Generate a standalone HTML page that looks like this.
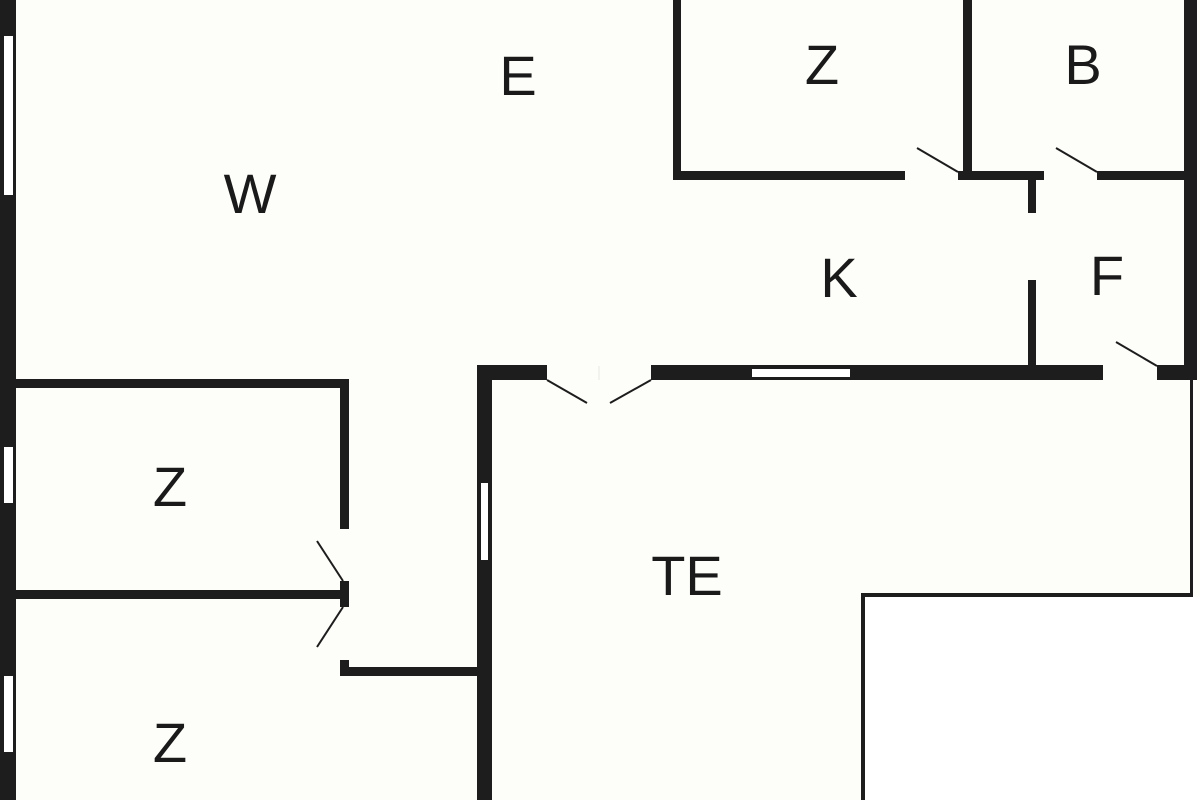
<!DOCTYPE html>
<html><head><meta charset="utf-8"><style>
html,body{margin:0;padding:0;background:#fdfdf9;}
svg{display:block;}
text{font-family:"Liberation Sans",sans-serif;font-size:56px;fill:#1a1a1a;text-anchor:middle;}
</style></head><body>
<svg width="1200" height="800" viewBox="0 0 1200 800" xmlns="http://www.w3.org/2000/svg">
<rect x="0" y="0" width="1200" height="800" fill="#fdfdf9"/>
<rect x="863" y="597" width="337" height="203" fill="#ffffff"/>
<g fill="#1d1d1d">
<!-- left outer wall -->
<rect x="0" y="0" width="16" height="800"/>
<!-- top-right Z room -->
<rect x="673" y="0" width="8" height="180"/>
<rect x="673" y="171" width="232" height="9"/>
<rect x="958" y="171" width="86" height="9"/>
<rect x="963" y="0" width="9" height="180"/>
<rect x="1028" y="171" width="8" height="42"/>
<rect x="1097" y="171" width="90" height="9"/>
<rect x="1184" y="0" width="13" height="380"/>
<rect x="1028" y="280" width="8" height="90"/>
<!-- TE top wall -->
<rect x="477" y="365" width="70" height="15"/>
<rect x="651" y="365" width="452" height="15"/>
<rect x="1157" y="365" width="40" height="15"/>
<!-- TE left wall -->
<rect x="477" y="365" width="15" height="435"/>
<!-- left Z rooms -->
<rect x="16" y="379" width="333" height="9"/>
<rect x="340" y="379" width="9" height="150"/>
<rect x="340" y="581" width="9" height="26"/>
<rect x="16" y="590" width="333" height="9"/>
<rect x="340" y="660" width="9" height="16"/>
<rect x="340" y="667" width="138" height="9"/>
<!-- thin lines -->
<rect x="1190" y="380" width="3" height="217"/>
<rect x="861" y="593" width="332" height="4"/>
<rect x="861" y="593" width="4" height="207"/>
</g>
<!-- windows -->
<g fill="#ffffff">
<rect x="4" y="36" width="9" height="159"/>
<rect x="4" y="447" width="9" height="56"/>
<rect x="4" y="676" width="9" height="76"/>
<rect x="481" y="483" width="7" height="77"/>
<rect x="752" y="369" width="98" height="8"/>
</g>
<!-- door swing lines -->
<g stroke="#1d1d1d" stroke-width="2" fill="none">
<line x1="958" y1="172" x2="917" y2="148"/>
<line x1="1097" y1="172" x2="1056" y2="148"/>
<line x1="1157" y1="366" x2="1116" y2="342"/>
<line x1="547" y1="380" x2="587" y2="403"/>
<line x1="651" y1="380" x2="610" y2="403"/>
<line x1="343" y1="581" x2="317" y2="541"/>
<line x1="343" y1="607" x2="317" y2="647"/>
</g>
<line x1="599" y1="366" x2="599" y2="380" stroke="#e8e8e4" stroke-width="1"/>
<text x="250" y="213">W</text>
<text x="518" y="95">E</text>
<text x="822" y="84">Z</text>
<text x="1083" y="84">B</text>
<text x="839" y="297">K</text>
<text x="1107" y="295">F</text>
<text x="170" y="506">Z</text>
<text x="687" y="595">TE</text>
<text x="170" y="762">Z</text>
</svg>
</body></html>
